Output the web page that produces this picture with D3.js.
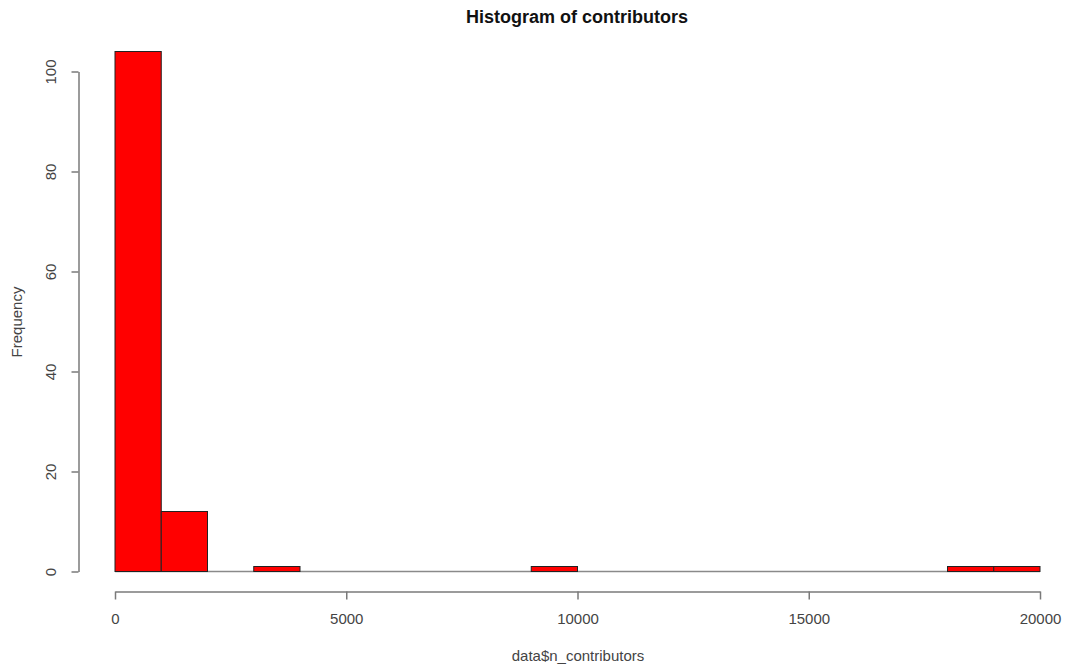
<!DOCTYPE html>
<html><head><meta charset="utf-8">
<script src="https://cdn.jsdelivr.net/npm/d3@7"></script>
<style>body{margin:0;background:#fff;} svg{display:block;font-family:"Liberation Sans",Arial,sans-serif;}</style>
</head><body>
<svg id="c" width="1065" height="669"></svg>
<script>
const binStarts = [0,1000,2000,3000,4000,5000,6000,7000,8000,9000,10000,11000,12000,13000,14000,15000,16000,17000,18000,19000];
const binWidth = 1000;
const counts = [104,12,0,1,0,0,0,0,0,1,0,0,0,0,0,0,0,0,1,1];
const xTicks = [0,5000,10000,15000,20000];
const yTicks = [0,20,40,60,80,100];
const title = "Histogram of contributors";
const xLabel = "data$n_contributors";
const yLabel = "Frequency";

const svg = d3.select("#c");
const x = d3.scaleLinear().domain([0,20000]).range([115,1040]);
const y = d3.scaleLinear().domain([0,100]).range([571.5,71.5]);
const axisCol = "#7a7a7a", textCol = "#444";

// zero-height bins drawn as baseline
svg.append("line").attr("x1",x(0)).attr("x2",x(20000)).attr("y1",y(0)).attr("y2",y(0))
  .attr("stroke","#8a8a8a").attr("stroke-width",1.5);
// non-empty bars
const idx = d3.range(binStarts.length).filter(i=>counts[i]>0);
svg.append("g").selectAll("rect").data(idx).join("rect")
  .attr("x", i=>x(binStarts[i])).attr("width", i=>x(binStarts[i]+binWidth)-x(binStarts[i]))
  .attr("y", i=>y(counts[i])).attr("height", i=>y(0)-y(counts[i]))
  .attr("fill","#ff0000").attr("stroke","#222").attr("stroke-width",1);

// x axis
const xa = svg.append("g").attr("transform","translate(0,591.5)")
  .call(d3.axisBottom(x).tickValues(xTicks).tickSize(8).tickSizeOuter(0).tickPadding(14).tickFormat(d3.format("d")));
// y axis
const ya = svg.append("g").attr("transform","translate(78.5,0)")
  .call(d3.axisLeft(y).tickValues(yTicks).tickSize(7).tickSizeOuter(0).tickPadding(10));
[xa,ya].forEach(a=>{
  a.select(".domain").attr("stroke",axisCol).attr("stroke-width",1.5);
  a.selectAll(".tick line").attr("stroke",axisCol).attr("stroke-width",1.5);
  a.selectAll("text").attr("fill",textCol).attr("font-size",15).attr("font-family","Liberation Sans, Arial, sans-serif");
});
ya.selectAll(".tick text").attr("text-anchor","middle").attr("dy",null)
  .attr("transform", "translate(-28,0) rotate(-90)").attr("x",0).attr("y",5);

svg.append("text").attr("x",577).attr("y",23).attr("text-anchor","middle")
  .attr("font-weight","bold").attr("font-size",18).attr("fill","#111").text(title);
svg.append("text").attr("x",578).attr("y",661).attr("text-anchor","middle")
  .attr("font-size",15).attr("fill",textCol).text(xLabel);
svg.append("text").attr("transform","translate(22,322) rotate(-90)").attr("text-anchor","middle")
  .attr("font-size",15).attr("fill",textCol).text(yLabel);
</script>
</body></html>
